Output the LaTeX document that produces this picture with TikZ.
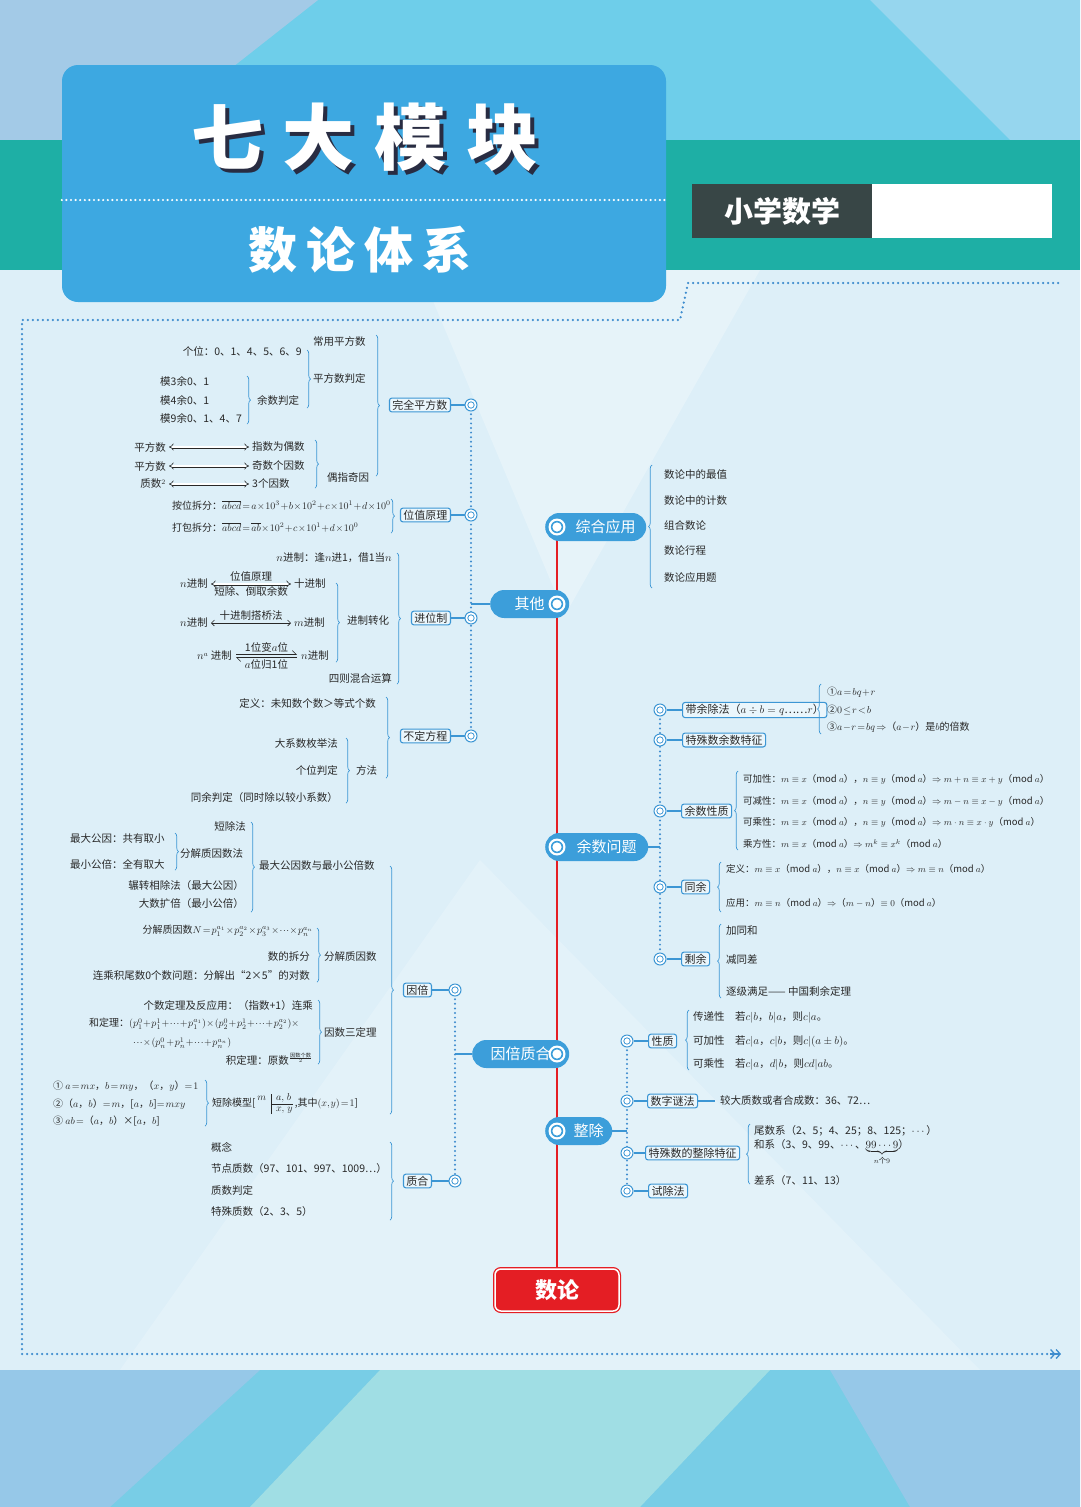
\documentclass[tikz,border=0pt]{standalone}
\usepackage{amsmath}
\usepackage{fontspec}
\setmainfont{Noto Sans CJK SC}
\usetikzlibrary{arrows.meta,positioning,decorations.pathreplacing}
\definecolor{pagebg}{RGB}{221,239,248}
\definecolor{topsky}{RGB}{110,206,234}
\definecolor{topsteel}{RGB}{163,202,231}
\definecolor{toplight}{RGB}{150,214,238}
\definecolor{tealband}{RGB}{30,175,165}
\definecolor{titleblue}{RGB}{61,168,225}
\definecolor{titleshade}{RGB}{40,44,66}
\definecolor{slab}{RGB}{56,70,70}
\definecolor{pillblue}{RGB}{60,158,218}
\definecolor{wireblue}{RGB}{60,150,212}
\definecolor{dotblue}{RGB}{62,140,206}
\definecolor{trunkred}{RGB}{228,30,36}
\definecolor{ink}{RGB}{40,40,40}
\definecolor{boxfill}{RGB}{234,246,252}
\definecolor{lowsky}{RGB}{120,205,230}
\definecolor{lowsteel}{RGB}{150,200,232}
\definecolor{lowpale}{RGB}{160,222,228}

\pgfdeclarelayer{page}
\pgfdeclarelayer{wires}
\pgfsetlayers{page,wires,main}

% braces: tip to the right / tip to the left
\newcommand{\brR}[3]{\draw[brc] (#1,#2) -- (#1,#3);}
\newcommand{\brL}[3]{\draw[brc] (#1,#3) -- (#1,#2);}
% tighter spacing in formulas
\newcommand{\tightmath}{\medmuskip=1mu\relax\thickmuskip=2mu\relax\thinmuskip=1mu\relax}

\begin{document}
\begin{tikzpicture}[x=1pt, y=-1pt,
pill/.style={rounded corners=14pt, fill=pillblue, text=white, minimum height=28pt, inner sep=0pt, font=\fontsize{15}{16}\selectfont},
hub/.style={circle, fill=white, minimum size=17pt, inner sep=0pt, path picture={\fill[pillblue] (path picture bounding box.center) circle (6.2pt); \fill[white] (path picture bounding box.center) circle (4.6pt);}},
leaf/.style={draw=wireblue, line width=1.1pt, rounded corners=2.5pt, fill=boxfill, text=ink, inner xsep=3pt, inner ysep=1.8pt, font=\fontsize{11}{12}\selectfont},
item/.style={text=ink, inner sep=0pt, font=\fontsize{10.5}{12}\selectfont},
eq/.style={text=ink, inner sep=0pt, font=\fontsize{10}{12}\selectfont\tightmath},
modl/.style={text=ink, inner sep=0pt, font=\fontsize{9.5}{11}\selectfont},
ring/.style={circle, draw=wireblue, line width=1pt, fill=white, minimum size=12pt, inner sep=0pt, path picture={\draw[wireblue, line width=0.8pt] (path picture bounding box.center) circle (3.2pt);}},
brc/.style={draw=wireblue, line width=0.7pt, decorate, decoration={brace, amplitude=3.5pt}},
wire/.style={wireblue, line width=1.1pt},
dotln/.style={dotblue, line width=2.2pt, dash pattern=on 0pt off 4.6pt, line cap=round},
trunk/.style={trunkred, line width=2.2pt},
dbl/.style={ink, double, double distance=1.8pt, line width=0.6pt, {Implies}-{Implies}, shorten <=3pt, shorten >=3pt},
sgl/.style={ink, line width=0.6pt, {Straight Barb[length=3pt]}-{Straight Barb[length=3pt]}, shorten <=3pt, shorten >=3pt},
hrp/.style={ink, line width=0.6pt, -{Straight Barb[left, length=4pt]}}
]
\useasboundingbox (0,0) rectangle (1080,1507);

% background
\begin{pgfonlayer}{page}
\fill[pagebg] (0,0) rectangle (1080,1507);
\fill[topsky] (0,0) rectangle (1080,140);
\fill[topsteel] (0,0) -- (318,0) -- (140,140) -- (0,140) -- cycle;
\fill[toplight] (870,0) -- (1080,0) -- (1080,140) -- (1010,140) -- cycle;
\fill[tealband] (0,140) rectangle (1080,270);
\fill[white, opacity=0.28] (420,270) -- (760,270) -- (565,615) -- cycle;
\fill[white, opacity=0.2] (120,1370) -- (980,1370) -- (480,860) -- cycle;
\fill[lowsky] (0,1370) rectangle (1080,1507);
\fill[lowsteel] (0,1370) -- (260,1370) -- (110,1507) -- (0,1507) -- cycle;
\fill[lowpale] (380,1370) -- (770,1370) -- (640,1507) -- (250,1507) -- cycle;
\fill[lowsteel] (830,1370) -- (1080,1370) -- (1080,1507) -- (910,1507) -- cycle;
\draw[dotln, line width=2.5pt, dash pattern=on 0pt off 5pt] (1058,283) -- (688,283) -- (680,320) -- (22,320) -- (22,1354) -- (1050,1354);
\draw[dotblue, line width=1.3pt, -{Straight Barb[length=4pt,width=9pt] Straight Barb[length=4pt,width=9pt]}] (1050,1354) -- (1061,1354);
\end{pgfonlayer}

% title
\node[fill=titleblue, rounded corners=16pt, minimum width=604pt, minimum height=237pt, inner sep=0pt] (ttlbox) at (364,183.5) {};
\draw[white, line width=2.4pt, dash pattern=on 0pt off 4.6pt, line cap=round] (ttlbox.west |- 0,200) -- (ttlbox.east |- 0,200);
\node[text=titleshade, font=\fontsize{72}{80}\selectfont\bfseries] (ttlsh) at (369,141) {七\hspace{20pt}大\hspace{20pt}模\hspace{20pt}块};
\node[text=white, font=\fontsize{72}{80}\selectfont\bfseries] (ttl) at (365,137) {七\hspace{20pt}大\hspace{20pt}模\hspace{20pt}块};
\node[text=white, font=\fontsize{49}{54}\selectfont\bfseries] (subttl) at (360,250) {数\hspace{9pt}论\hspace{9pt}体\hspace{9pt}系};
\node[fill=slab, text=white, minimum width=180pt, minimum height=54pt, anchor=west, font=\fontsize{29}{32}\selectfont\bfseries] (grade) at (692,211) {小学数学};
\node[fill=white, minimum width=180pt, minimum height=54pt, anchor=west] (gradeblank) at (872,211) {};

% trunk
\node[pill, minimum width=101pt, anchor=west] (pzh) at (545,527) {\hspace{20pt}综合应用};
\node[pill, minimum width=79pt, anchor=west] (pqt) at (490,604) {其他\hspace{22pt}};
\node[pill, minimum width=103pt, anchor=west] (pys) at (545,847) {\hspace{20pt}余数问题};
\node[pill, minimum width=97pt, anchor=west] (pyb) at (472,1054) {因倍质合\hspace{22pt}};
\node[pill, minimum width=67pt, anchor=west] (pzc) at (545,1131) {\hspace{20pt}整除};
\node[hub] (hzh) at (557,527) {};
\node[hub] (hqt) at (557,604) {};
\node[hub] (hys) at (557,847) {};
\node[hub] (hyb) at (557,1054) {};
\node[hub] (hzc) at (557,1131) {};
\node[fill=trunkred, draw=white, line width=1.5pt, preaction={draw=trunkred, line width=4pt}, rounded corners=6pt, text=white, minimum width=124pt, minimum height=42pt, font=\fontsize{22}{24}\selectfont\bfseries] (root) at (557,1290) {数论};

% 综合应用
\node[item, anchor=west] (zz1) at (664,474) {数论中的最值};
\node[item, anchor=west] (zz2) at (664,500) {数论中的计数};
\node[item, anchor=west] (zz3) at (664,526) {组合数论};
\node[item, anchor=west] (zz4) at (664,551) {数论行程};
\node[item, anchor=west] (zz5) at (664,577) {数论应用题};
\brL{652}{465}{588}

% 其他
\node[leaf, anchor=east] (bwq) at (451,405) {完全平方数};
\node[leaf, anchor=east] (bwz) at (451,515) {位值原理};
\node[leaf, anchor=east] (bjw) at (451,618) {进位制};
\node[leaf, anchor=east] (bbd) at (451,736) {不定方程};
\node[ring] (rwq) at (471,405) {};
\node[ring] (rwz) at (471,515) {};
\node[ring] (rjw) at (471,618) {};
\node[ring] (rbd) at (471,736) {};
\coordinate (jqt) at (471,604);

\node[item, anchor=west] (cy) at (313,342) {常用平方数};
\node[item, anchor=west] (pd) at (313,379) {平方数判定};
\node[item, anchor=west] (oz) at (327,478) {偶指奇因};
\brR{376}{335}{476}
\node[item, anchor=east] (gw) at (302,351) {个位：0、1、4、5、6、9};
\node[item, anchor=west] (ysp) at (257,400) {余数判定};
\brR{307}{350}{408}
\node[item, anchor=west] (m3) at (160,381) {模3余0、1};
\node[item, anchor=west] (m4) at (160,400) {模4余0、1};
\node[item, anchor=west] (m9) at (160,418) {模9余0、1、4、7};
\brR{247}{376}{424}
\node[item, anchor=east] (pf1) at (166,447) {平方数};
\node[item, anchor=east] (pf2) at (166,466) {平方数};
\node[item, anchor=east] (zs2) at (166,484) {质数$^2$};
\node[item, anchor=west] (zo) at (252,447) {指数为偶数};
\node[item, anchor=west] (jg) at (252,466) {奇数个因数};
\node[item, anchor=west] (sg) at (252,484) {3个因数};
\draw[dbl] (pf1) -- (zo);
\draw[dbl] (pf2) -- (jg);
\draw[dbl] (zs2) -- (sg);
\brR{315}{440}{488}

\node[eq, anchor=west] (awcf) at (172,505) {按位拆分：$\overline{abcd}=a\times10^3+b\times10^2+c\times10^1+d\times10^0$};
\node[eq, anchor=west] (dbcf) at (172,527) {打包拆分：$\overline{abcd}=\overline{ab}\times10^2+c\times10^1+d\times10^0$};
\brR{391}{499}{533}

\node[item, anchor=east] (njz) at (392,558) {$n$进制：逢$n$进1，借1当$n$};
\node[item, anchor=west] (jzzh) at (347,621) {进制转化};
\node[item, anchor=east] (szys) at (392,678) {四则混合运算};
\brR{397}{553}{684}
\node[item, anchor=east] (na1) at (208,584) {$n$进制};
\node[item, anchor=west] (sj1) at (294,584) {十进制};
\node[item, anchor=east] (na2) at (208,623) {$n$进制};
\node[item, anchor=west] (mj2) at (294,623) {$m$进制};
\node[item, anchor=east] (na3) at (232,656) {$n^a$ 进制};
\node[item, anchor=west] (nj3) at (301,656) {$n$进制};
\draw[dbl] (na1) -- node[item, above=2pt] (wzyl) {位值原理} node[item, below=2pt] (dcqy) {短除、倒取余数} (sj1);
\draw[sgl] (na2) -- node[item, above=2pt] (sjdq) {十进制搭桥法} (mj2);
\draw[hrp] ([xshift=4pt, yshift=1.5pt]na3.east) -- node[item, above=2pt] (ybw) {1位变$a$位} ([xshift=-4pt, yshift=1.5pt]nj3.west);
\draw[hrp] ([xshift=-4pt, yshift=-1.5pt]nj3.west) -- node[item, below=2pt] (wgy) {$a$位归1位} ([xshift=4pt, yshift=-1.5pt]na3.east);
\brR{336}{583}{662}

\node[item, anchor=east] (dydf) at (376,703) {定义：未知数个数＞等式个数};
\node[item, anchor=west] (ffa) at (356,770) {方法};
\brR{386}{697}{778}
\node[item, anchor=east] (dxs) at (338,743) {大系数枚举法};
\node[item, anchor=east] (gwpd) at (338,770) {个位判定};
\node[item, anchor=east] (typd) at (338,797) {同余判定（同时除以较小系数）};
\brR{346}{738}{803}

% 因倍质合
\node[leaf, anchor=east] (bgb) at (432,990) {因倍};
\node[leaf, anchor=east] (bzh) at (432,1181) {质合};
\node[ring] (rgb) at (455,990) {};
\node[ring] (rzh) at (455,1181) {};
\coordinate (jyb) at (455,1054);

\node[item, anchor=west] (gbs) at (259,865) {最大公因数与最小公倍数};
\node[item, anchor=west] (fzy) at (324,957) {分解质因数};
\node[item, anchor=west] (ysd) at (324,1032) {因数三定理};
\node[eq, anchor=west] (dcmx) at (212,1104) {短除模型[\,{\renewcommand{\arraystretch}{0.85}$\begin{array}{@{}r|l@{}} m & a,\ b\\\cline{2-2} & x,\ y\end{array}$}\ ,其中$(x,y)=1$]};
\brR{390}{866}{1114}
\node[item, anchor=east] (dcf) at (246,826) {短除法};
\node[item, anchor=west] (fzf) at (180,854) {分解质因数法};
\node[item, anchor=east] (zxf) at (244,885) {辗转相除法（最大公因）};
\node[item, anchor=east] (dskb) at (244,903) {大数扩倍（最小公倍）};
\brR{251}{822}{912}
\node[item, anchor=west] (gyq) at (70,839) {最大公因：共有取小};
\node[item, anchor=west] (gbq) at (70,864) {最小公倍：全有取大};
\brR{175}{833}{870}
\node[eq, anchor=east] (fzn) at (313,931) {分解质因数$N=p_1^{a_1}\times p_2^{a_2}\times p_3^{a_3}\times\cdots\times p_n^{a_n}$};
\node[item, anchor=east] (scf) at (310,956) {数的拆分};
\node[item, anchor=east] (lcj) at (310,975) {连乘积尾数0个数问题：分解出“2×5”的对数};
\brR{317}{928}{982}
\node[item, anchor=east] (gsd) at (313,1005) {个数定理及反应用：（指数+1）连乘};
\node[eq, anchor=west] (hdl) at (89,1024) {和定理：$(p_1^0+p_1^1+\cdots+p_1^{a_1})\times(p_2^0+p_2^1+\cdots+p_2^{a_2})\times$};
\node[eq, anchor=west] (hdl2) at (133,1043) {$\cdots\times(p_n^0+p_n^1+\cdots+p_n^{a_n})$};
\node[item, anchor=east] (jdl) at (313,1059) {积定理：原数$^{\frac{\text{因数个数}}{2}}$};
\brR{318}{1000}{1064}
\node[eq, anchor=west] (dc1) at (53,1086) {① $a=mx$，$b=my$，（$x$，$y$）$=1$};
\node[eq, anchor=west] (dc2) at (53,1104) {②（$a$，$b$）$=m$，[$a$，$b$]$=mxy$};
\node[eq, anchor=west] (dc3) at (53,1121) {③ $ab=$（$a$，$b$）×[$a$，$b$]};
\brR{205}{1080}{1126}

\node[item, anchor=west] (gnn) at (211,1147) {概念};
\node[item, anchor=west] (jdzs) at (211,1168) {节点质数（97、101、997、1009…）};
\node[item, anchor=west] (zspd) at (211,1190) {质数判定};
\node[item, anchor=west] (tszs) at (211,1211) {特殊质数（2、3、5）};
\brR{390}{1142}{1220}

% 余数问题
\node[leaf, anchor=west] (bdy) at (682,710) {带余除法（$a\div b=q$……$r$）};
\node[leaf, anchor=west] (bts) at (682,740) {特殊数余数特征};
\node[leaf, anchor=west] (byx) at (681,811) {余数性质};
\node[leaf, anchor=west] (bty) at (681,887) {同余};
\node[leaf, anchor=west] (bsy) at (681,959) {剩余};
\node[ring] (rdy) at (660,710) {};
\node[ring] (rts) at (660,740) {};
\node[ring] (ryx) at (660,811) {};
\node[ring] (rty) at (660,887) {};
\node[ring] (rsy) at (660,959) {};
\coordinate (jys) at (660,847);

\node[eq, anchor=west] (dy1) at (827,692) {①$a=bq+r$};
\node[eq, anchor=west] (dy2) at (827,710) {②$0\le r<b$};
\node[eq, anchor=west] (dy3) at (827,727) {③$a-r=bq\Rightarrow$（$a-r$）是$b$的倍数};
\brL{821}{684}{734}
\node[modl, anchor=west] (yx1) at (743,779) {可加性：$m\equiv x$（mod $a$），$n\equiv y$（mod $a$）$\Rightarrow m+n\equiv x+y$（mod $a$）};
\node[modl, anchor=west] (yx2) at (743,801) {可减性：$m\equiv x$（mod $a$），$n\equiv y$（mod $a$）$\Rightarrow m-n\equiv x-y$（mod $a$）};
\node[modl, anchor=west] (yx3) at (743,822) {可乘性：$m\equiv x$（mod $a$），$n\equiv y$（mod $a$）$\Rightarrow m\cdot n\equiv x\cdot y$（mod $a$）};
\node[modl, anchor=west] (yx4) at (743,844) {乘方性：$m\equiv x$（mod $a$）$\Rightarrow m^k\equiv x^k$（mod $a$）};
\brL{738}{771}{850}
\node[modl, anchor=west] (ty1) at (726,869) {定义：$m\equiv x$（mod $a$），$n\equiv x$（mod $a$）$\Rightarrow m\equiv n$（mod $a$）};
\node[modl, anchor=west] (ty2) at (726,903) {应用：$m\equiv n$（mod $a$）$\Rightarrow$（$m-n$）$\equiv0$（mod $a$）};
\brL{721}{862}{912}
\node[item, anchor=west] (sy1) at (726,931) {加同和};
\node[item, anchor=west] (sy2) at (726,960) {减同差};
\node[item, anchor=west] (sy3) at (726,991) {逐级满足—— 中国剩余定理};
\brL{721}{924}{998}

% 整除
\node[leaf, anchor=west] (bxz) at (648,1041) {性质};
\node[leaf, anchor=west] (bsz) at (647,1101) {数字谜法};
\node[leaf, anchor=west] (btz) at (645,1153) {特殊数的整除特征};
\node[leaf, anchor=west] (bsc) at (648,1191) {试除法};
\node[ring] (rxz) at (627,1041) {};
\node[ring] (rsz) at (627,1101) {};
\node[ring] (rtz) at (627,1153) {};
\node[ring] (rsc) at (627,1191) {};
\coordinate (jzc) at (627,1131);

\node[item, anchor=west] (xz1) at (693,1017) {传递性\quad 若$c|b$，$b|a$，则$c|a$。};
\node[item, anchor=west] (xz2) at (693,1041) {可加性\quad 若$c|a$，$c|b$，则$c|(a\pm b)$。};
\node[item, anchor=west] (xz3) at (693,1064) {可乘性\quad 若$c|a$，$d|b$，则$cd|ab$。};
\brL{689}{1010}{1070}
\node[item, anchor=west] (smz) at (720,1101) {较大质数或者合成数：36、72…};
\node[item, anchor=west] (ws1) at (754,1131) {尾数系（2、5；4、25；8、125；$\cdots$）};
\node[item, anchor=west] (ws2) at (754,1152) {和系（3、9、99、$\cdots$、$\underbrace{99\cdots9}_{n\text{个}9}$）};
\node[item, anchor=west] (ws3) at (754,1180) {差系（7、11、13）};
\brL{750}{1124}{1184}

% connectors
\begin{pgfonlayer}{wires}
\draw[trunk] (hzh.center) -- (root.north);
\draw[wire] (pqt.west) -- (jqt);
\draw[dotln] (rwq.center) -- (rbd.center);
\draw[wire] (rwq) -- (bwq);
\draw[wire] (rwz) -- (bwz);
\draw[wire] (rjw) -- (bjw);
\draw[wire] (rbd) -- (bbd);
\draw[wire] (pyb.west) -- (jyb);
\draw[dotln] (rgb.center) -- (rzh.center);
\draw[wire] (rgb) -- (bgb);
\draw[wire] (rzh) -- (bzh);
\draw[wire] (pys.east) -- (jys);
\draw[dotln] (rdy.center) -- (rsy.center);
\draw[wire] (rdy) -- (bdy);
\draw[wire] (rts) -- (bts);
\draw[wire] (ryx) -- (byx);
\draw[wire] (rty) -- (bty);
\draw[wire] (rsy) -- (bsy);
\draw[wire] (pzc.east) -- (jzc);
\draw[dotln] (rxz.center) -- (rsc.center);
\draw[wire] (rxz) -- (bxz);
\draw[wire] (rsz) -- (bsz);
\draw[wire] (rtz) -- (btz);
\draw[wire] (rsc) -- (bsc);
\draw[wire, shorten >=5pt] (bsz) -- (smz);
\end{pgfonlayer}
\end{tikzpicture}
\end{document}
